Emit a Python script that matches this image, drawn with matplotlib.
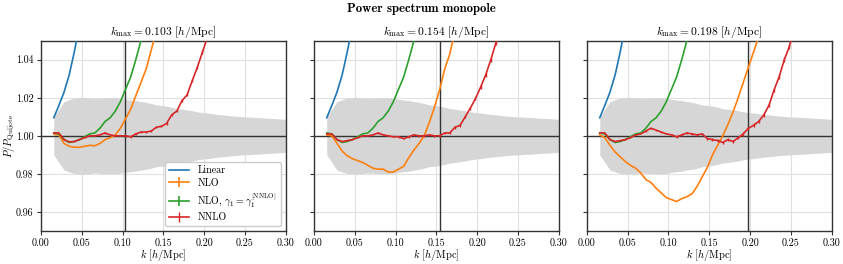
import numpy as np
import matplotlib
matplotlib.use("Agg")
import matplotlib.pyplot as plt

plt.rcParams["font.family"] = "serif"
plt.rcParams["font.serif"] = ["cmr10"]
plt.rcParams["mathtext.fontset"] = "cm"
plt.rcParams["axes.formatter.use_mathtext"] = True
plt.rcParams["axes.unicode_minus"] = False

# k bins [h/Mpc]
k = [0.0157, 0.0220, 0.0283, 0.0346, 0.0408, 0.0471, 0.0534, 0.0597, 0.0660, 0.0723,
     0.0785, 0.0848, 0.0911, 0.0974, 0.1037, 0.1100, 0.1162, 0.1225, 0.1288, 0.1351,
     0.1414, 0.1477, 0.1539, 0.1602, 0.1665, 0.1728, 0.1791, 0.1854, 0.1916, 0.1979,
     0.2042, 0.2105, 0.2168, 0.2231, 0.2293, 0.2356, 0.2419, 0.2482, 0.2545, 0.2608,
     0.2670, 0.2733, 0.2796, 0.2859, 0.2922, 0.2985, 0.3048]

# Quijote error band (half width)
band = [0.0100, 0.0140, 0.0180, 0.0190, 0.0198, 0.0200, 0.0202, 0.0198, 0.0195, 0.0197,
        0.0198, 0.0200, 0.0200, 0.0196, 0.0192, 0.0188, 0.0186, 0.0180, 0.0176, 0.0170,
        0.0162, 0.0160, 0.0156, 0.0150, 0.0143, 0.0140, 0.0136, 0.0132, 0.0126, 0.0122,
        0.0120, 0.0116, 0.0112, 0.0110, 0.0107, 0.0104, 0.0102, 0.0100, 0.0099, 0.0097,
        0.0096, 0.0094, 0.0092, 0.0091, 0.0089, 0.0087, 0.0086]

kmax = [0.103, 0.154, 0.198]

linear = [1.0095, 1.016, 1.023, 1.032, 1.044, 1.058, 1.072]

nlo_g = [1.0015, 1.001, 0.998, 0.9965, 0.997, 0.998, 0.9995, 1.001, 1.0015, 1.004,
         1.0075, 1.0095, 1.013, 1.018, 1.0245, 1.031, 1.040, 1.050, 1.060]

nlo = [
    [1.001, 1.0005, 0.996, 0.9945, 0.994, 0.994, 0.9945, 0.995, 0.9948, 0.996,
     0.998, 0.999, 1.0005, 1.004, 1.009, 1.014, 1.021, 1.028, 1.035, 1.045, 1.055],
    [1.0005, 1.0, 0.996, 0.992, 0.9895, 0.988, 0.987, 0.986, 0.9845, 0.983,
     0.9825, 0.9825, 0.981, 0.981, 0.9825, 0.984, 0.9885, 0.9925, 0.996, 1.0,
     1.007, 1.015, 1.024, 1.035, 1.043, 1.055],
    [1.0005, 0.999, 0.995, 0.9915, 0.989, 0.9865, 0.9845, 0.983, 0.9805, 0.977,
     0.9755, 0.9725, 0.970, 0.9675, 0.9665, 0.9655, 0.967, 0.968, 0.9695, 0.9735,
     0.9785, 0.9835, 0.990, 0.995, 1.0, 1.006, 1.0125, 1.020, 1.028, 1.036,
     1.044, 1.052, 1.060],
]

nnlo = [
    [1.0015, 1.0015, 0.998, 0.9968, 0.997, 0.998, 0.999, 1.0, 1.0, 1.0005,
     1.0015, 1.0005, 1.0, 1.0, 1.0, 0.9995, 1.001, 1.002, 1.002, 1.0025,
     1.0045, 1.005, 1.0065, 1.011, 1.013, 1.0185, 1.0215, 1.029, 1.036, 1.044,
     1.052],
    [1.001, 1.001, 0.998, 0.997, 0.9975, 0.998, 0.999, 1.0, 1.0, 1.0005,
     1.0015, 1.0005, 1.0, 0.9995, 0.9995, 0.9985, 0.9995, 1.0005, 1.0, 1.0,
     1.0005, 1.0, 1.0, 1.0015, 1.0015, 1.0045, 1.0055, 1.010, 1.0145, 1.0195,
     1.0255, 1.032, 1.040, 1.049, 1.058],
    [1.0015, 1.0015, 0.998, 0.997, 0.9975, 0.998, 0.999, 1.0005, 1.001, 1.0025,
     1.004, 1.003, 1.002, 1.001, 1.0005, 0.9995, 1.0005, 1.0015, 1.001, 1.0005,
     1.001, 0.9985, 0.998, 0.9975, 0.9965, 0.998, 0.997, 0.999, 1.001, 1.004,
     1.0055, 1.0075, 1.011, 1.016, 1.024, 1.031, 1.040, 1.047, 1.058],
]

nnlo_err = [0.0002, 0.0002, 0.0002, 0.0002, 0.0002, 0.0002, 0.0002, 0.0002, 0.0002, 0.0003,
            0.0003, 0.0003, 0.0003, 0.0003, 0.0004, 0.0004, 0.0004, 0.0004, 0.0005, 0.0005,
            0.0005, 0.0006, 0.0006, 0.0007, 0.0007, 0.0007, 0.0008, 0.0008, 0.0009, 0.0009,
            0.0010, 0.0010, 0.0011, 0.0011, 0.0012, 0.0012, 0.0013, 0.0013, 0.0014]

k = np.array(k)
band = np.array(band)

fig, axes = plt.subplots(1, 3, figsize=(8.43, 2.64), dpi=100, sharey=True)
fig.subplots_adjust(left=0.0486, right=0.9866, bottom=0.125, top=0.846, wspace=0.115)

for i, ax in enumerate(axes):
    ax.fill_between(k, 1 - band, 1 + band, color="#d6d6d6", lw=0, zorder=1)
    ax.axhline(1.0, color="#333333", lw=1.0, zorder=2)
    ax.axvline(kmax[i], color="#333333", lw=1.0, zorder=2)
    ax.plot(k[:len(linear)], linear, color="C0", lw=1.2, label="Linear", zorder=3)
    ax.errorbar(k[:len(nlo[i])], nlo[i], yerr=0, color="C1", lw=1.2,
                label="NLO", zorder=3)
    ax.errorbar(k[:len(nlo_g)], nlo_g, yerr=0, color="C2", lw=1.2,
                label=r"NLO, $\gamma_1=\gamma_1^{[\rm NNLO]}$", zorder=3)
    n = len(nnlo[i])
    ax.errorbar(k[:n], nnlo[i], yerr=nnlo_err[:n], color="C3", lw=1.2,
                elinewidth=1.0, label="NNLO", zorder=4)
    ax.set_xlim(0, 0.3)
    ax.set_ylim(0.95, 1.05)
    ax.set_xticks([0.0, 0.05, 0.10, 0.15, 0.20, 0.25, 0.30])
    ax.set_xticklabels(["0.00", "0.05", "0.10", "0.15", "0.20", "0.25", "0.30"])
    ax.set_yticks([0.96, 0.98, 1.00, 1.02, 1.04])
    ax.grid(True, color="#e0e0e0", lw=0.8, zorder=0)
    ax.set_axisbelow(True)
    ax.tick_params(labelsize=7.2, length=3, width=0.8, pad=2.5, color="#333333")
    for s in ax.spines.values():
        s.set_linewidth(1.0)
        s.set_color("#333333")
    ax.set_title(r"$k_{\rm max} = %.3f$ [$h$/Mpc]" % kmax[i], fontsize=8.3, pad=4)
    ax.set_xlabel(r"$k$ [$h$/Mpc]", fontsize=7.5)
    ax.xaxis.set_label_coords(0.5, -0.085)

axes[0].set_yticklabels(["0.96", "0.98", "1.00", "1.02", "1.04"])
axes[0].set_ylabel(r"$P/P_{\rm Quijote}$", fontsize=7.5)
axes[0].yaxis.set_label_coords(-0.097, 0.5)
axes[0].legend(loc="lower right", fontsize=7.2, framealpha=1, edgecolor="#cccccc",
               borderpad=0.4, handlelength=2.0, labelspacing=0.3)

fig.suptitle("Power spectrum monopole", fontsize=9.2, fontfamily="cmb10", y=0.99)

fig.savefig("out.png", dpi=100)
